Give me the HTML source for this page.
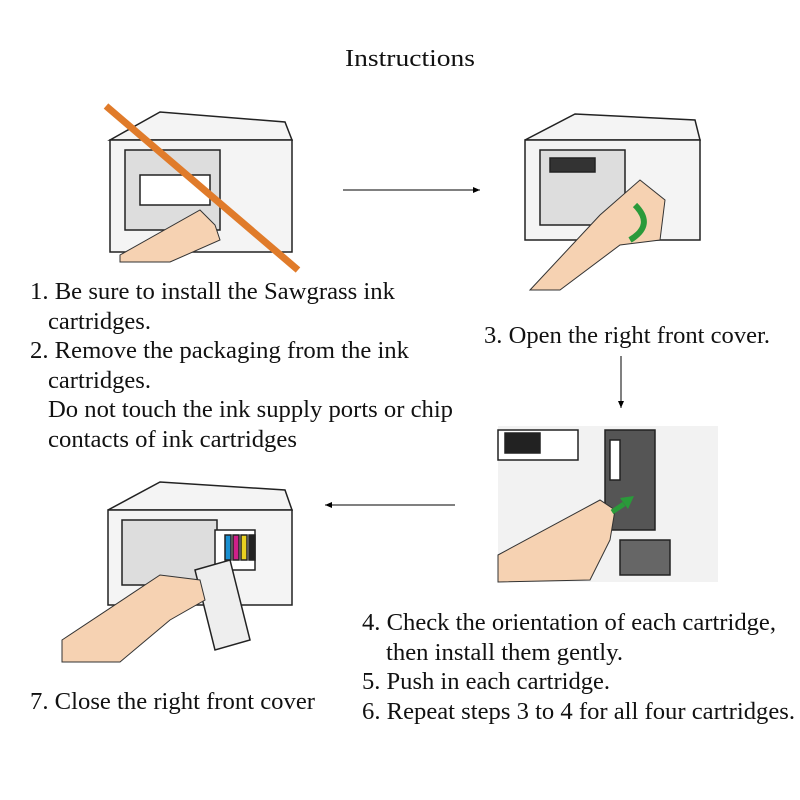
<!DOCTYPE html>
<html><head><meta charset="utf-8"><style>
html,body{margin:0;padding:0;background:#fff}
svg{display:block}
text{font-family:"Liberation Serif",serif;font-size:24px;fill:#111}
</style></head><body>
<svg width="800" height="800" viewBox="0 0 800 800">
<defs>
<marker id="ah" markerWidth="8" markerHeight="8" refX="7" refY="4" orient="auto" markerUnits="userSpaceOnUse"><path d="M0,1 L7,4 L0,7 Z" fill="#000"/></marker>
</defs>
<text x="345" y="66" font-size="26" textLength="130" lengthAdjust="spacingAndGlyphs">Instructions</text>

<!-- printer 1 -->
<g stroke="#222" stroke-width="1.5" fill="#f4f4f4">
<path d="M110,140 L160,112 L285,122 L292,140 Z"/>
<rect x="110" y="140" width="182" height="112"/>
<rect x="125" y="150" width="95" height="80" fill="#ddd"/>
<rect x="140" y="175" width="70" height="30" fill="#fff"/>
</g>
<path d="M120,255 L200,210 L215,225 L220,240 L170,262 L120,262 Z" fill="#f6d2b2" stroke="#333"/>
<line x1="106" y1="106" x2="298" y2="270" stroke="#e07b2a" stroke-width="7"/>

<!-- printer 2 -->
<g stroke="#222" stroke-width="1.5" fill="#f4f4f4">
<path d="M525,140 L575,114 L695,120 L700,140 Z"/>
<rect x="525" y="140" width="175" height="100"/>
<rect x="540" y="150" width="85" height="75" fill="#ddd"/>
<rect x="550" y="158" width="45" height="14" fill="#333"/>
</g>
<path d="M530,290 L600,215 L640,180 L665,200 L660,240 L620,245 L560,290 Z" fill="#f6d2b2" stroke="#333"/>
<path d="M635,205 Q655,225 630,240" stroke="#2a9a3a" stroke-width="6" fill="none"/>

<!-- printer 3 -->
<rect x="498" y="426" width="220" height="156" fill="#f2f2f2"/>
<g stroke="#222" stroke-width="1.5">
<rect x="498" y="430" width="80" height="30" fill="#fff"/>
<rect x="505" y="433" width="35" height="20" fill="#222"/>
<rect x="605" y="430" width="50" height="100" fill="#555"/>
<rect x="610" y="440" width="10" height="40" fill="#fff"/>
<rect x="620" y="540" width="50" height="35" fill="#666"/>
</g>
<path d="M498,555 L600,500 L615,510 L610,540 L590,580 L498,582 Z" fill="#f6d2b2" stroke="#333"/>
<path d="M612,512 L624,504" stroke="#2a9a3a" stroke-width="5"/>
<path d="M620,498 L634,496 L628,509 Z" fill="#2a9a3a"/>

<!-- printer 4 -->
<g stroke="#222" stroke-width="1.5" fill="#f4f4f4">
<path d="M108,510 L160,482 L285,490 L292,510 Z"/>
<rect x="108" y="510" width="184" height="95"/>
<rect x="122" y="520" width="95" height="65" fill="#ddd"/>
<rect x="215" y="530" width="40" height="40" fill="#fff"/>
<rect x="225" y="535" width="6" height="25" fill="#1a8fd0"/>
<rect x="233" y="535" width="6" height="25" fill="#d0208a"/>
<rect x="241" y="535" width="6" height="25" fill="#e8d020"/>
<rect x="249" y="535" width="6" height="25" fill="#222"/>
<path d="M195,570 L230,560 L250,640 L215,650 Z" fill="#eee"/>
</g>
<path d="M62,640 L160,575 L200,580 L205,600 L170,620 L120,662 L62,662 Z" fill="#f6d2b2" stroke="#333"/>

<!-- arrows -->
<line x1="343" y1="190" x2="480" y2="190" stroke="#000" stroke-width="1" marker-end="url(#ah)"/>
<line x1="621" y1="356" x2="621" y2="408" stroke="#000" stroke-width="1" marker-end="url(#ah)"/>
<line x1="455" y1="505" x2="325" y2="505" stroke="#000" stroke-width="1" marker-end="url(#ah)"/>

<g lengthAdjust="spacingAndGlyphs">
<text x="30" y="299" textLength="365" lengthAdjust="spacingAndGlyphs">1. Be sure to install the Sawgrass ink</text>
<text x="48" y="329" textLength="103" lengthAdjust="spacingAndGlyphs">cartridges.</text>
<text x="30" y="358" textLength="379" lengthAdjust="spacingAndGlyphs">2. Remove the packaging from the ink</text>
<text x="48" y="388" textLength="103" lengthAdjust="spacingAndGlyphs">cartridges.</text>
<text x="48" y="417" textLength="405" lengthAdjust="spacingAndGlyphs">Do not touch the ink supply ports or chip</text>
<text x="48" y="447" textLength="249" lengthAdjust="spacingAndGlyphs">contacts of ink cartridges</text>
<text x="484" y="343" textLength="286" lengthAdjust="spacingAndGlyphs">3. Open the right front cover.</text>
<text x="362" y="630" textLength="414" lengthAdjust="spacingAndGlyphs">4. Check the orientation of each cartridge,</text>
<text x="386" y="660" textLength="237" lengthAdjust="spacingAndGlyphs">then install them gently.</text>
<text x="362" y="689" textLength="248" lengthAdjust="spacingAndGlyphs">5. Push in each cartridge.</text>
<text x="362" y="719" textLength="433" lengthAdjust="spacingAndGlyphs">6. Repeat steps 3 to 4 for all four cartridges.</text>
<text x="30" y="709" textLength="285" lengthAdjust="spacingAndGlyphs">7. Close the right front cover</text>
</g>
</svg>
</body></html>
